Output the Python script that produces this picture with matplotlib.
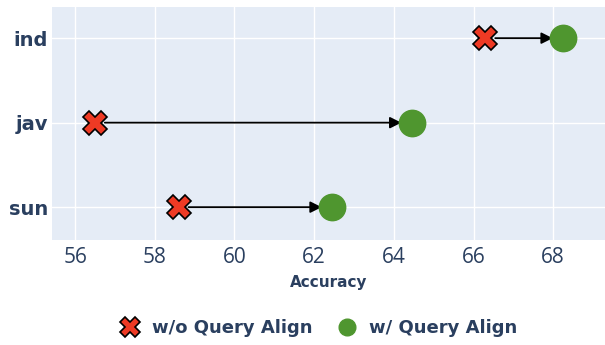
import matplotlib.pyplot as plt
from matplotlib.lines import Line2D

plt.rcParams['font.family'] = ['Open Sans', 'DejaVu Sans']

# accuracy per language, before / after query alignment
langs = ['ind', 'jav', 'sun']
acc_without = [66.3, 56.5, 58.6]
acc_with = [68.25, 64.45, 62.45]
xticks = [56, 58, 60, 62, 64, 66, 68]

text_col = '#2a3f5f'
red = '#EE3A24'
green = '#4F962F'
bold_font = 'DejaVu Sans'

fig = plt.figure(figsize=(6.05, 3.45), dpi=100)
ax = fig.add_axes([0.086, 0.304, 0.914, 0.676])
ax.set_facecolor('#E5ECF6')

ypos = list(range(len(langs)))

for y, a, b in zip(ypos, acc_without, acc_with):
    ax.annotate('', xy=(b, y), xytext=(a, y),
                arrowprops=dict(arrowstyle='-|>', color='black', lw=1.3,
                                mutation_scale=17, shrinkA=7, shrinkB=7.5),
                zorder=3)

ax.plot(acc_without, ypos, linestyle='none', marker='X', markersize=17,
        markerfacecolor=red, markeredgecolor='black', markeredgewidth=1.2, zorder=4)
ax.plot(acc_with, ypos, linestyle='none', marker='o', markersize=19,
        markerfacecolor=green, markeredgecolor=green, zorder=4)

ax.set_xlim(55.42, 69.3)
ax.set_ylim(2.39, -0.37)
ax.set_xticks(xticks)
ax.set_yticks(ypos)
ax.set_yticklabels(langs, fontsize=14, fontweight='bold', color=text_col,
                   family=bold_font)
ax.tick_params(axis='x', labelsize=15, labelcolor=text_col, length=0, pad=5)
ax.tick_params(axis='y', length=0, pad=3)
ax.grid(True, color='white', linewidth=1)
ax.set_axisbelow(True)
for s in ax.spines.values():
    s.set_visible(False)

ax.set_xlabel('Accuracy', fontsize=11, fontweight='bold', color=text_col,
              family=bold_font, labelpad=5)

handles = [
    Line2D([], [], linestyle='none', marker='X', markersize=15,
           markerfacecolor=red, markeredgecolor='black', markeredgewidth=1.2),
    Line2D([], [], linestyle='none', marker='o', markersize=12,
           markerfacecolor=green, markeredgecolor=green),
]
fig.legend(handles, ['w/o Query Align', 'w/ Query Align'], loc='center',
           bbox_to_anchor=(0.52, 0.049), ncol=2, frameon=False,
           prop={'weight': 'bold', 'size': 13, 'family': bold_font},
           labelcolor=text_col, handletextpad=0.2, columnspacing=0.9)

fig.savefig('out.png', dpi=100)
